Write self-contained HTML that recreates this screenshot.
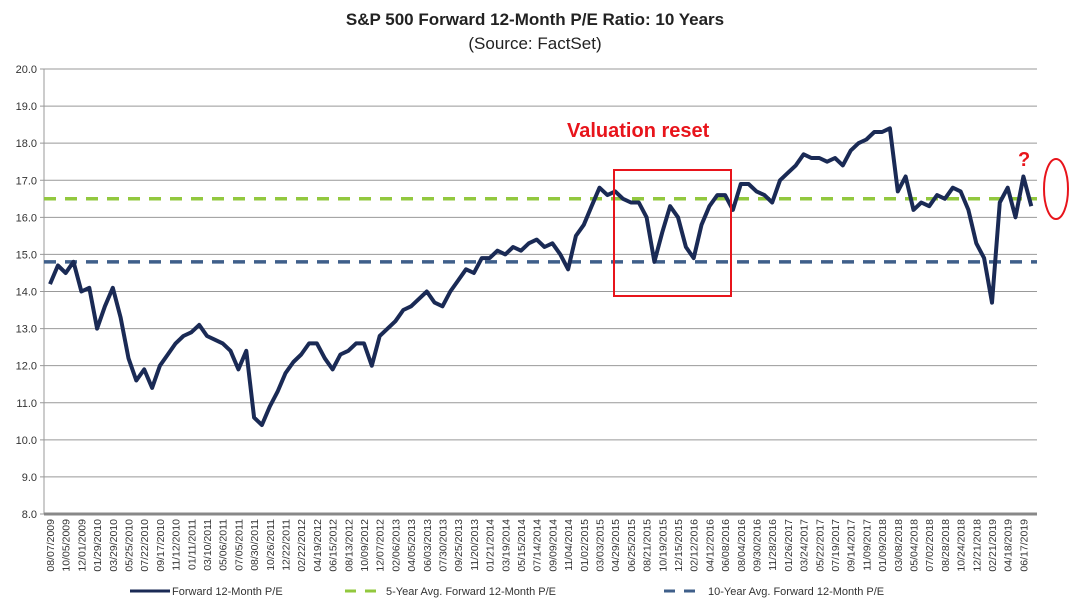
<!DOCTYPE html>
<html><head><meta charset="utf-8"><style>
body{margin:0;background:#fff;}
svg{display:block;font-family:"Liberation Sans",Arial,sans-serif;}
</style></head><body>
<svg id="chart" width="1070" height="603">
<text x="535" y="25" text-anchor="middle" font-size="17" font-weight="bold" fill="#222">S&amp;P 500 Forward 12-Month P/E Ratio: 10 Years</text>
<text x="535" y="49" text-anchor="middle" font-size="17" fill="#222">(Source: FactSet)</text>
<g id="yaxis"></g>
<g id="xaxis"></g>
<g id="series"></g>
<text x="567" y="137" font-size="20" font-weight="bold" fill="#e8141b">Valuation reset</text>
<rect x="614" y="170" width="117" height="126" fill="none" stroke="#e8141b" stroke-width="2"/>
<text x="1018" y="166" font-size="20" font-weight="bold" fill="#e8141b">?</text>
<ellipse cx="1056" cy="189" rx="12" ry="30" fill="none" stroke="#e8141b" stroke-width="2"/>
<g>
<line x1="130" y1="591" x2="170" y2="591" stroke="#1a2a55" stroke-width="3"/>
<text x="172" y="595" font-size="11" fill="#333">Forward 12-Month P/E</text>
<line x1="345" y1="591" x2="380" y2="591" stroke="#92c83e" stroke-width="3" stroke-dasharray="11,9"/>
<text x="386" y="595" font-size="11" fill="#333">5-Year Avg. Forward 12-Month P/E</text>
<line x1="664" y1="591" x2="699" y2="591" stroke="#3f5f8a" stroke-width="3" stroke-dasharray="11,9"/>
<text x="708" y="595" font-size="11" fill="#333">10-Year Avg. Forward 12-Month P/E</text>
</g>
</svg>
<script>
const dateLabels=["08/07/2009","10/05/2009","12/01/2009","01/29/2010","03/29/2010","05/25/2010","07/22/2010","09/17/2010","11/12/2010","01/11/2011","03/10/2011","05/06/2011","07/05/2011","08/30/2011","10/26/2011","12/22/2011","02/22/2012","04/19/2012","06/15/2012","08/13/2012","10/09/2012","12/07/2012","02/06/2013","04/05/2013","06/03/2013","07/30/2013","09/25/2013","11/20/2013","01/21/2014","03/19/2014","05/15/2014","07/14/2014","09/09/2014","11/04/2014","01/02/2015","03/03/2015","04/29/2015","06/25/2015","08/21/2015","10/19/2015","12/15/2015","02/12/2016","04/12/2016","06/08/2016","08/04/2016","09/30/2016","11/28/2016","01/26/2017","03/24/2017","05/22/2017","07/19/2017","09/14/2017","11/09/2017","01/09/2018","03/08/2018","05/04/2018","07/02/2018","08/28/2018","10/24/2018","12/21/2018","02/21/2019","04/18/2019","06/17/2019"];
const yTicks=[8,9,10,11,12,13,14,15,16,17,18,19,20];
// forward P/E sampled every half label interval
const peValues=[14.2,14.7,14.5,14.8,14.0,14.1,13.0,13.6,14.1,13.3,12.2,11.6,11.9,11.4,12.0,12.3,12.6,12.8,12.9,13.1,12.8,12.7,12.6,12.4,11.9,12.4,10.6,10.4,10.9,11.3,11.8,12.1,12.3,12.6,12.6,12.2,11.9,12.3,12.4,12.6,12.6,12.0,12.8,13.0,13.2,13.5,13.6,13.8,14.0,13.7,13.6,14.0,14.3,14.6,14.5,14.9,14.9,15.1,15.0,15.2,15.1,15.3,15.4,15.2,15.3,15.0,14.6,15.5,15.8,16.3,16.8,16.6,16.7,16.5,16.4,16.4,16.0,14.8,15.6,16.3,16.0,15.2,14.9,15.8,16.3,16.6,16.6,16.2,16.9,16.9,16.7,16.6,16.4,17.0,17.2,17.4,17.7,17.6,17.6,17.5,17.6,17.4,17.8,18.0,18.1,18.3,18.3,18.4,16.7,17.1,16.2,16.4,16.3,16.6,16.5,16.8,16.7,16.2,15.3,14.9,13.7,16.4,16.8,16.0,17.1,16.3];
const avg5=[16.5];
const avg10=[14.8];

const NS="http://www.w3.org/2000/svg";
const X0=50, XSTEP=15.7, PL=44, PR=1037, YT=69, YB=514;
function xs(k){return X0+k*XSTEP;}
function ys(v){return YB-(v-8)/12*(YB-YT);}
function mk(tag,attrs,parent){const e=document.createElementNS(NS,tag);for(const k in attrs)e.setAttribute(k,attrs[k]);parent.appendChild(e);return e;}
const ya=document.getElementById('yaxis'),xa=document.getElementById('xaxis'),se=document.getElementById('series');
let l=mk('line',{x1:PL,y1:YT,x2:PL,y2:YB,stroke:'#999','stroke-width':1},ya);


yTicks.forEach(v=>{
  const t=mk('text',{x:37,y:ys(v)+4,'text-anchor':'end','font-size':11,fill:'#333'},ya);
  t.textContent=v.toFixed(1);
  
  
  const gl=mk('line',{x1:PL-4,y1:ys(v),x2:PR,y2:ys(v),stroke:'#999','stroke-width':1},ya);
  
  
});
l=mk('line',{x1:PL,y1:YB,x2:PR,y2:YB,stroke:'#888','stroke-width':3},xa);


dateLabels.forEach((d,k)=>{
  const x=xs(k)+4;
  const t=mk('text',{x:x,y:519,transform:`rotate(-90 ${x} 519)`,'text-anchor':'end','font-size':10.5,fill:'#333'},xa);
  t.textContent=d;
  
  
});
let g=mk('line',{x1:PL,x2:PR,y1:ys(avg5[0]),y2:ys(avg5[0]),stroke:'#92c83e','stroke-width':3.5,'stroke-dasharray':'12,9'},se);


g=mk('line',{x1:PL,x2:PR,y1:ys(avg10[0]),y2:ys(avg10[0]),stroke:'#3f5f8a','stroke-width':3.5,'stroke-dasharray':'12,9'},se);


const pts=peValues.map((v,i)=>xs(i*0.5).toFixed(1)+','+ys(v).toFixed(1)).join(' ');
const pl=mk('polyline',{points:pts,fill:'none',stroke:'#1a2a55','stroke-width':4,'stroke-linejoin':'round'},se);


</script>
</body></html>
